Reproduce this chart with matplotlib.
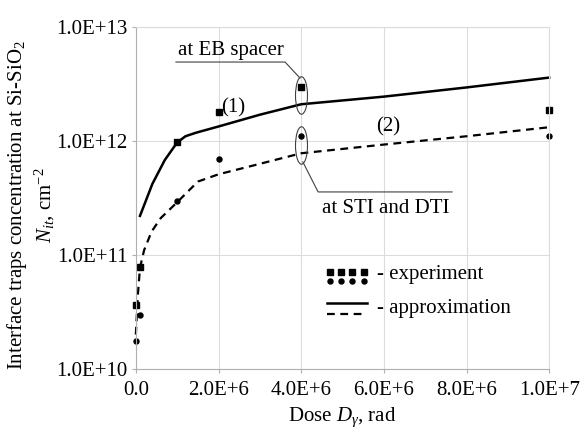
import numpy as np
import matplotlib
matplotlib.use("Agg")
import matplotlib.pyplot as plt
from matplotlib.path import Path

plt.rcParams['font.family'] = 'serif'
plt.rcParams['font.serif'] = ['Liberation Serif', 'DejaVu Serif']
plt.rcParams['mathtext.fontset'] = 'custom'
plt.rcParams['mathtext.rm'] = 'Liberation Serif'
plt.rcParams['mathtext.it'] = 'Liberation Serif:italic'

# Experimental points
dose_exp = [0.0, 1e5, 1e6, 2e6, 4e6, 1e7]
nit_eb = [3.6e10, 7.9e10, 9.8e11, 1.78e12, 2.96e12, 1.87e12]
dose_exp_sti = [0.0, 1e5, 1e6, 2e6, 4e6, 1e7]
nit_sti = [1.77e10, 2.97e10, 2.96e11, 6.9e11, 1.1e12, 1.1e12]

# Approximation curves
dose_fit1 = [1e5, 4e5, 7e5, 1.0e6, 1.2e6, 1.45e6, 2e6, 3e6, 4e6, 6e6, 8e6, 1e7]
nit_fit1 = [2.2e11, 4.2e11, 6.8e11, 9.7e11, 1.1e12, 1.18e12, 1.34e12, 1.7e12,
            2.1e12, 2.45e12, 2.95e12, 3.6e12]
dose_fit2 = [0.0, 5e4, 1e5, 2e5, 3.8e5, 6e5, 1e6, 1.5e6, 2e6, 3e6, 4e6, 6e6, 8e6, 1e7]
nit_fit2 = [2.0e10, 4.5e10, 7.7e10, 1.1e11, 1.6e11, 2.1e11, 2.9e11, 4.4e11,
            5.1e11, 6.3e11, 7.8e11, 9.3e11, 1.1e12, 1.32e12]

xticks = [0, 2e6, 4e6, 6e6, 8e6, 1e7]
xticklabels = ['0.0', '2.0E+6', '4.0E+6', '6.0E+6', '8.0E+6', '1.0E+7']
yticks = [1e10, 1e11, 1e12, 1e13]
yticklabels = ['1.0E+10', '1.0E+11', '1.0E+12', '1.0E+13']

fs = 15
ff = 'Liberation Serif'

fig = plt.figure(figsize=(5.83, 4.36), dpi=100)
ax = fig.add_axes([0.233, 0.154, 0.709, 0.784])
ax.set_yscale('log')
ax.set_xlim(0, 1e7)
ax.set_ylim(1e10, 1e13)

ax.grid(True, color='#dcdcdc', lw=0.8)
ax.set_axisbelow(True)
for s in ax.spines.values():
    s.set_color('#dcdcdc')
    s.set_linewidth(0.8)
ax.spines['left'].set_color('#b0b0b0')
ax.spines['bottom'].set_color('#b0b0b0')

ax.set_xticks(xticks)
ax.set_xticklabels(xticklabels, fontsize=fs, family=ff)
ax.set_yticks(yticks)
ax.set_yticklabels(yticklabels, fontsize=fs, family=ff)
ax.minorticks_off()
ax.tick_params(length=3, color='#b0b0b0', pad=3)
ax.tick_params(axis='x', pad=6)

ax.plot(dose_fit1, nit_fit1, color='black', lw=1.8, clip_on=False)
ax.plot(dose_fit2, nit_fit2, color='black', lw=1.6, ls=(0, (3.5, 2.5)), clip_on=False)
ax.plot(dose_exp, nit_eb, 's', color='black', ms=4.2, clip_on=False)
ax.plot(dose_exp_sti, nit_sti, 'o', color='black', ms=3.6, clip_on=False)

# ellipses around the points at 4E+6
circ = Path.unit_circle()
ell = Path(circ.vertices * [0.32, 1.0], circ.codes)
ax.plot([4e6, 4e6], [2.52e12, 9.3e11], ls='none', marker=ell, ms=27,
        mfc='none', mec='#404040', mew=0.8)

# leader lines and labels
ax.plot([0.97e6, 3.61e6, 3.97e6], [4.93e12, 4.93e12, 3.57e12], color='#404040', lw=0.8)
ax.text(2.3e6, 5.1e12, 'at EB spacer', fontsize=fs, family=ff, ha='center', va='bottom')
ax.plot([4.04e6, 4.41e6, 7.65e6], [6.55e11, 3.57e11, 3.57e11], color='#404040', lw=0.8)
ax.text(4.5e6, 2.55e11, 'at STI and DTI', fontsize=fs, family=ff, ha='left', va='center')
ax.text(2.35e6, 1.95e12, '(1)', fontsize=fs, family=ff, ha='center', va='center')
ax.text(6.1e6, 1.33e12, '(2)', fontsize=fs, family=ff, ha='center', va='center')

# hand-drawn legend
lx = [0.47, 0.497, 0.524, 0.551]
ax.plot(lx, [0.284] * 4, 's', color='black', ms=4.2, transform=ax.transAxes)
ax.plot(lx, [0.257] * 4, 'o', color='black', ms=3.6, transform=ax.transAxes)
ax.plot([0.462, 0.559], [0.193, 0.193], color='black', lw=1.8, transform=ax.transAxes)
ax.plot([0.462, 0.559], [0.161, 0.161], color='black', lw=1.6, ls=(0, (3.5, 2.5)),
        transform=ax.transAxes)
ax.text(0.583, 0.275, '- experiment', fontsize=fs, family=ff, va='center',
        transform=ax.transAxes)
ax.text(0.583, 0.178, '- approximation', fontsize=fs, family=ff, va='center',
        transform=ax.transAxes)

ax.set_xlabel(r'Dose $D_{\gamma}$, rad', fontsize=fs, family=ff, labelpad=4)
fig.text(0.03, 0.53, 'Interface traps concentration at Si-SiO$_2$', rotation=90,
         fontsize=fs, family=ff, ha='center', va='center')
fig.text(0.077, 0.53, r'$N_{it}$, cm$^{-2}$', rotation=90,
         fontsize=fs, family=ff, ha='center', va='center')

plt.savefig('out.png', dpi=100)
